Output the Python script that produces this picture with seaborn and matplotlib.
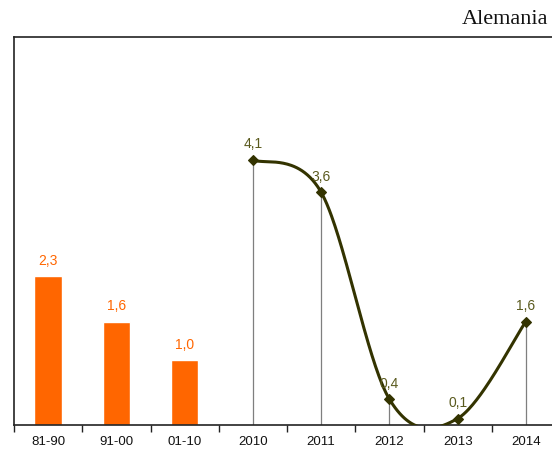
import numpy as np
import pandas as pd
import matplotlib
matplotlib.use("Agg")
import matplotlib.pyplot as plt
from matplotlib import font_manager
import seaborn as sns

# Average growth by decade (bars) and yearly growth (smoothed line)
categories = ["81-90", "91-00", "01-10", "2010", "2011", "2012", "2013", "2014"]
decades = ["81-90", "91-00", "01-10"]
decade_values = [2.3, 1.6, 1.0]
years = ["2010", "2011", "2012", "2013", "2014"]
year_values = [4.1, 3.6, 0.4, 0.1, 1.6]
title = "Alemania"

BAR_COLOR = "#FF6600"
LINE_COLOR = "#333300"
LABEL_LINE_COLOR = "#5A5A1E"

sns.set_theme(style="white")
available = {f.name for f in font_manager.fontManager.ttflist}
label_family = ["Liberation Sans Narrow", "Liberation Sans", "DejaVu Sans"]
label_family = [f for f in label_family if f in available] or ["DejaVu Sans"]
plt.rcParams["font.family"] = label_family

fig = plt.figure(figsize=(5.52, 4.50), dpi=100)
W, H = 552, 450
left, right, bottom, top = 14, 560, 425, 37
ax = fig.add_axes([left / W, (H - bottom) / H, (right - left) / W, (bottom - top) / H])

bars = pd.DataFrame({"cat": decades, "val": decade_values})
sns.barplot(data=bars, x="cat", y="val", order=categories, color=BAR_COLOR,
            saturation=1, width=0.4, ax=ax)

# Value labels above bars
for cat, v in zip(decades, decade_values):
    xi = categories.index(cat)
    ax.text(xi, v + 0.13, f"{v:.1f}".replace(".", ","), ha="center", va="bottom",
            color=BAR_COLOR, fontsize=10)

# Smoothed line through yearly values (Catmull-Rom style Bezier segments)
xs = np.array([categories.index(y) for y in years], dtype=float)
ys = np.array(year_values, dtype=float)
pts = np.column_stack([xs, ys])
ext = np.vstack([pts[0], pts, pts[-1]])
curve = []
t = np.linspace(0, 1, 60)[:, None]
for i in range(len(pts) - 1):
    p0, p3 = ext[i + 1], ext[i + 2]
    c1 = p0 + (ext[i + 2] - ext[i]) / 6.0
    c2 = p3 - (ext[i + 3] - ext[i + 1]) / 6.0
    seg = ((1 - t) ** 3) * p0 + 3 * ((1 - t) ** 2) * t * c1 + 3 * (1 - t) * t ** 2 * c2 + t ** 3 * p3
    curve.append(seg)
curve = np.vstack(curve)
smooth = pd.DataFrame({"x": curve[:, 0], "y": curve[:, 1]})

# Drop lines from each yearly point to the baseline
ax.vlines(xs, 0, ys, color="#7F7F7F", lw=0.9, zorder=2)
sns.lineplot(data=smooth, x="x", y="y", color=LINE_COLOR, lw=2.2, sort=False,
             estimator=None, ax=ax, zorder=3)
ax.scatter(xs, ys, marker="D", s=24, color=LINE_COLOR, zorder=4)
for x, v in zip(xs, ys):
    ax.text(x, v + 0.13, f"{v:.1f}".replace(".", ","), ha="center", va="bottom",
            color=LABEL_LINE_COLOR, fontsize=10)

ax.set_xlim(-0.5, len(categories) - 0.5)
ax.set_ylim(0, 6)
ax.set_xlabel("")
ax.set_ylabel("")
ax.set_yticks([])
ax.set_xticks(range(len(categories)))
ax.set_xticklabels(categories, fontsize=9.5, color="#111111")
ax.set_xticks(np.arange(-0.5, len(categories), 1.0), minor=True)
ax.tick_params(axis="x", which="major", length=0, pad=8)
ax.tick_params(axis="x", which="minor", length=5, width=1, direction="out",
               color="#222222", bottom=True)
for side in ["top", "left", "bottom"]:
    ax.spines[side].set_visible(True)
    ax.spines[side].set_color("#222222")
    ax.spines[side].set_linewidth(1.2)
ax.spines["right"].set_visible(False)

fig.text(548 / W, 1 - 20 / H, title, ha="right", va="center", fontsize=16,
         family=["Liberation Serif", "DejaVu Serif"], color="#111111")

fig.savefig("out.png", dpi=100)
